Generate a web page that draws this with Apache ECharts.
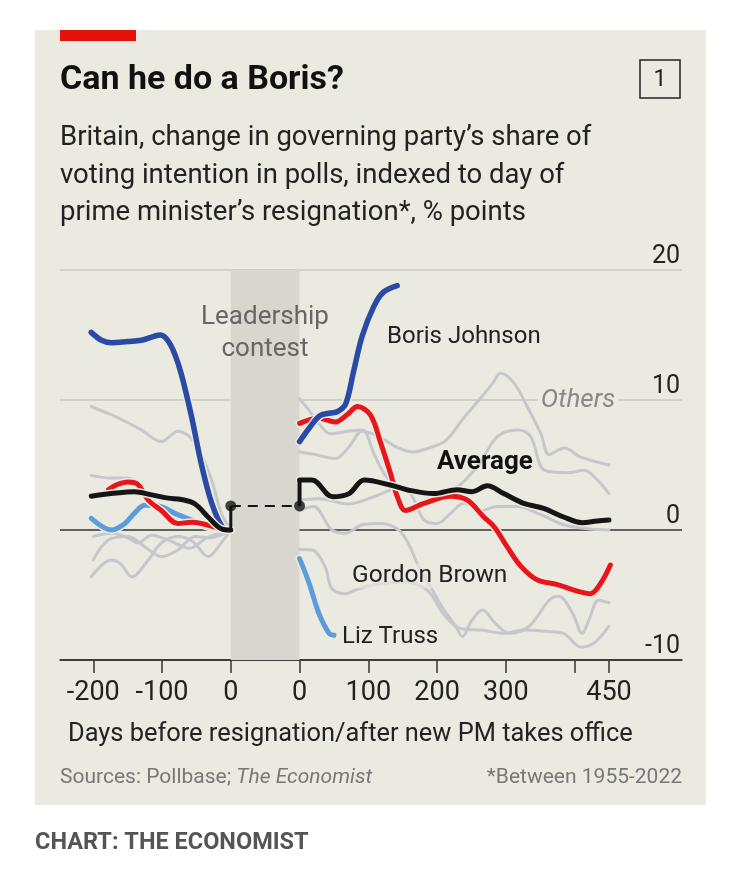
<!DOCTYPE html>
<html>
<head>
<meta charset="utf-8">
<script src="https://cdn.jsdelivr.net/npm/echarts@6/dist/echarts.min.js"></script>
<style>
  html, body { margin: 0; padding: 0; background: #fff; }
  #chart { width: 752px; height: 884px; }
</style>
</head>
<body>
<div id="chart"></div>
<script>
// days before resignation (<=0) and days after new PM takes office (>=0), % points
var GAP = 100; // width of the "leadership contest" band, in day units

var borisBefore = [[-203,15.2],[-188,14.6],[-173,14.4],[-150,14.5],[-130,14.6],[-112,14.9],[-102,15.0],[-92,14.6],[-82,13.6],[-72,12.0],[-57,8.7],[-43,5.1],[-28,2.1],[-12,0.2],[0,0]];
var borisAfter = [[0,6.8],[15,7.9],[30,8.8],[45,9.0],[55,9.1],[67,9.7],[79,12.3],[91,14.9],[108,17.2],[122,18.3],[142,18.8]];

var brownBefore = [[-178,3.1],[-165,3.5],[-149,3.7],[-135,3.5],[-120,2.3],[-101,1.5],[-77,0.5],[-57,0.6],[-43,0.5],[-14,0.1],[0,0]];
var brownAfter = [[0,8.2],[28,8.6],[52,8.3],[70,8.9],[84,9.5],[103,8.85],[118,6.7],[132,4.4],[142,2.6],[154,1.5],[181,2.05],[220,2.6],[244,2.3],[268,1.0],[283,0.25],[302,-1.3],[322,-2.8],[346,-3.85],[375,-4.2],[404,-4.7],[423,-4.9],[438,-4.1],[452,-2.7]];

var trussBefore = [[-203,0.9],[-185,0.2],[-173,0],[-154,0.5],[-140,1.3],[-125,1.9],[-101,1.8],[-82,1.3],[-57,0.77],[-33,0.25],[0,0]];
var trussAfter = [[0,-2.2],[14,-4.1],[28,-6.4],[43,-7.95],[50,-8.1]];

var avgBefore = [[-203,2.6],[-174,2.8],[-140,2.95],[-115,2.7],[-91,2.45],[-72,2.35],[-52,2.0],[-33,1.0],[-14,0.1],[0,0]];
var avgAtResign = 1.85;   // dots either side of the contest
var avgAfter = [[0,3.85],[18,3.85],[48,2.56],[72,2.8],[94,3.85],[132,3.46],[156,3.1],[195,2.8],[229,3.1],[251,2.95],[273,3.4],[297,2.8],[326,2.05],[355,1.67],[384,1.0],[411,0.56],[433,0.7],[450,0.77]];

var othersBefore = [
  [[-203,9.5],[-180,9.0],[-159,8.5],[-130,7.7],[-101,6.8],[-77,7.6],[-52,6.7],[-28,3.85],[-14,1.3],[0,0]],
  [[-203,4.2],[-175,4.0],[-150,4.0],[-130,3.3],[-110,2.0],[-90,1.2],[-60,0.8],[-30,0.3],[0,0]],
  [[-203,-3.6],[-174,-2.3],[-160,-2.6],[-144,-3.6],[-120,-2.3],[-101,-1.0],[-77,-0.5],[-55,-0.9],[-33,-2.05],[-14,-1.0],[0,0]],
  [[-200,-2.3],[-178,-0.77],[-149,-0.5],[-125,-1.3],[-101,-2.05],[-77,-1.54],[-52,-0.5],[-30,-0.6],[0,0]],
  [[-200,-0.5],[-173,-0.25],[-150,-0.6],[-135,-1.0],[-115,-0.4],[-90,-0.8],[-60,-1.4],[-35,-0.6],[0,0]]
];
var othersAfter = [
  [[0,6.0],[23,5.8],[52,5.5],[72,6.4],[91,7.6],[115,7.2],[140,6.4],[164,6.0],[188,6.3],[213,6.9],[237,8.5],[261,10],[281,11.3],[292,12.05],[312,11.3],[331,9.5],[351,7.4],[363,5.8],[385,6.3],[409,5.6],[450,5.0]],
  [[0,10.1],[14,9.2],[28,8.2],[45,7.4],[70,7.6],[91,7.7],[108,5.9],[120,4.6],[135,3.6],[161,2.8],[181,0.77],[200,0.5],[220,1.3],[239,2.05],[263,1.5],[288,1.8],[317,1.8],[350,1.2],[384,0.4],[420,0.1],[450,0]],
  [[0,2.3],[30,2.4],[70,2.0],[110,2.6],[150,3.3],[190,2.6],[229,3.3],[260,5.0],[288,7.2],[317,7.7],[336,7.2],[356,4.6],[390,4.4],[414,4.6],[433,3.85],[450,2.8]],
  [[0,1.5],[20,1.8],[47,0],[67,-0.25],[91,0.4],[120,0.5],[144,0],[158,-1.0],[173,-2.8],[193,-4.6],[207,-5.9],[227,-7.4],[237,-8.2],[250,-7.0],[266,-6.15],[285,-7.2],[305,-7.95],[334,-7.4],[363,-5.4],[377,-5.1],[397,-6.4],[411,-7.95],[421,-6.9],[435,-5.4],[450,-5.6]],
  [[0,-1.5],[18,-1.54],[37,-2.8],[47,-4.5],[67,-4.9],[82,-4.6],[110,-4.2],[150,-4.0],[185,-4.6],[210,-6.5],[235,-7.6],[265,-7.7],[297,-7.95],[326,-7.7],[360,-7.8],[384,-7.95],[409,-9.0],[428,-8.7],[450,-7.4]]
];

var tickDays = [-200, -100, 0, 100, 200, 300, 400, 500, 550];   // positions on the joined axis
var labelDays = [-200, -100, 0, 100, 200, 300, 400, 550];

var BG = '#ebeae0';
var FONT = 'Roboto, "Noto Sans", sans-serif';

function shift(pts) {
  return pts.map(function (p) { return [p[0] + GAP, p[1]]; });
}

var series = [];
function addLine(data, color, width, halo, z) {
  if (halo) {
    series.push({
      type: 'line', data: data, smooth: 0.35, symbol: 'none', silent: true, z: z,
      lineStyle: { color: BG, width: width + 3, cap: 'round' }
    });
  }
  series.push({
    type: 'line', data: data, smooth: 0.35, symbol: 'none', silent: true, z: z,
    lineStyle: { color: color, width: width, cap: 'round', join: 'round' }
  });
}

// band for the leadership contest
series.push({
  type: 'line', data: [], silent: true, z: 1,
  markArea: {
    silent: true,
    itemStyle: { color: '#d7d7cf' },
    data: [[{ xAxis: 0, yAxis: -10 }, { xAxis: GAP, yAxis: 20 }]]
  }
});

othersBefore.forEach(function (d) { addLine(d, '#c5c7cc', 3, false, 2); });
othersAfter.forEach(function (d) { addLine(shift(d), '#c5c7cc', 3, false, 2); });

addLine(trussBefore, '#5d9cdb', 5, true, 3);
addLine(shift(trussAfter), '#5d9cdb', 5, true, 3);
addLine(brownBefore, '#e8161b', 5, true, 3);
addLine(shift(brownAfter), '#e8161b', 5, true, 3);
addLine(borisBefore, '#2a4aa5', 5.5, true, 3);
addLine(shift(borisAfter), '#2a4aa5', 5.5, true, 3);
addLine(avgBefore, '#151515', 5, true, 4);
addLine(shift(avgAfter), '#151515', 5, true, 4);

// steps and dashed link for the average
series.push({
  type: 'line', data: [[0, 0], [0, avgAtResign]], symbol: 'none', silent: true, z: 4,
  lineStyle: { color: '#151515', width: 3 }
});
series.push({
  type: 'line', data: [[GAP, avgAtResign], [GAP, avgAfter[0][1]]], symbol: 'none', silent: true, z: 4,
  lineStyle: { color: '#151515', width: 4 }
});
series.push({
  type: 'line', data: [[0, avgAtResign], [GAP, avgAtResign]], symbol: 'none', silent: true, z: 4,
  lineStyle: { color: '#151515', width: 2, type: [10, 7] }
});
series.push({
  type: 'scatter', data: [[0, avgAtResign], [GAP, avgAtResign]], symbolSize: 11, silent: true, z: 5,
  itemStyle: { color: '#151515' }
});

function txt(x, y, text, font, fill, align, extra) {
  var st = { text: text, font: font + ' ' + FONT, fill: fill, align: align || 'left', textAlign: align || 'left', verticalAlign: 'middle', textVerticalAlign: 'middle' };
  if (extra) { for (var k in extra) st[k] = extra[k]; }
  return { type: 'text', x: x, y: y, z: 100, silent: true, style: st };
}

var chart = echarts.init(document.getElementById('chart'), null, { renderer: 'canvas' });
chart.setOption({
  animation: false,
  backgroundColor: '#fff',
  grid: { left: 60, right: 70, top: 270, bottom: 224 },
  xAxis: {
    type: 'value', min: -248.4, max: 656.2,
    axisLine: { show: true, onZero: false, lineStyle: { color: '#333', width: 1.5 } },
    axisTick: { show: true, length: 13, customValues: tickDays, lineStyle: { color: '#333', width: 1.5 } },
    axisLabel: {
      customValues: labelDays, margin: 20, fontSize: 27, color: '#222', fontFamily: FONT,
      formatter: function (v) { return v <= 0 ? String(v) : String(v - GAP); }
    },
    splitLine: { show: false }
  },
  yAxis: {
    type: 'value', min: -10, max: 20, interval: 10, position: 'right',
    axisLine: { show: false }, axisTick: { show: false },
    axisLabel: { inside: true, margin: 2, verticalAlign: 'bottom', fontSize: 25, color: '#222', fontFamily: FONT, padding: [0, 0, 1, 0] },
    splitLine: { lineStyle: { color: ['#333', '#333', '#c8c8c0', '#c8c8c0'], width: 1.5 } }
  },
  series: series,
  graphic: [
    { type: 'rect', z: -10, silent: true, shape: { x: 35, y: 30, width: 671, height: 775 }, style: { fill: BG } },
    { type: 'rect', z: 100, silent: true, shape: { x: 60, y: 30, width: 76, height: 11 }, style: { fill: '#e3120b' } },
    txt(60, 80, 'Can he do a Boris?', 'bold 34px', '#111'),
    { type: 'rect', z: 100, silent: true, shape: { x: 640, y: 60, width: 40, height: 38 }, style: { fill: 'none', stroke: '#222', lineWidth: 1.5 } },
    txt(660, 80, '1', '23px', '#222', 'center'),
    txt(60, 138, 'Britain, change in governing party\u2019s share of', '27.5px', '#222'),
    txt(60, 176, 'voting intention in polls, indexed to day of', '27.5px', '#222'),
    txt(60, 213, 'prime minister\u2019s resignation*, % points', '27.5px', '#222'),
    txt(265, 317, 'Leadership', '26px', '#666', 'center'),
    txt(265, 349, 'contest', '26px', '#666', 'center'),
    txt(387, 337, 'Boris Johnson', '24px', '#222'),
    txt(578, 400, 'Others', 'italic 26px', '#888', 'center', { backgroundColor: BG, padding: [0, 3] }),
    txt(437, 462, 'Average', 'bold 26px', '#111'),
    txt(352, 576, 'Gordon Brown', '24.5px', '#222', 'left', { backgroundColor: 'rgba(235,234,224,0.6)' }),
    txt(342, 637, 'Liz Truss', '24px', '#222'),
    txt(68, 735, 'Days before resignation/after new PM takes office', '25.4px', '#222'),
    txt(60, 778, 'Sources: Pollbase; {i|The Economist}', '21px', '#777', 'left', {
      rich: { i: { fontStyle: 'italic', fontSize: 21, fontFamily: FONT, fill: '#777' } }
    }),
    txt(682, 778, '*Between 1955-2022', '21px', '#777', 'right'),
    txt(35, 843, 'CHART: THE ECONOMIST', 'bold 23.5px', '#555')
  ]
});
</script>
</body>
</html>
